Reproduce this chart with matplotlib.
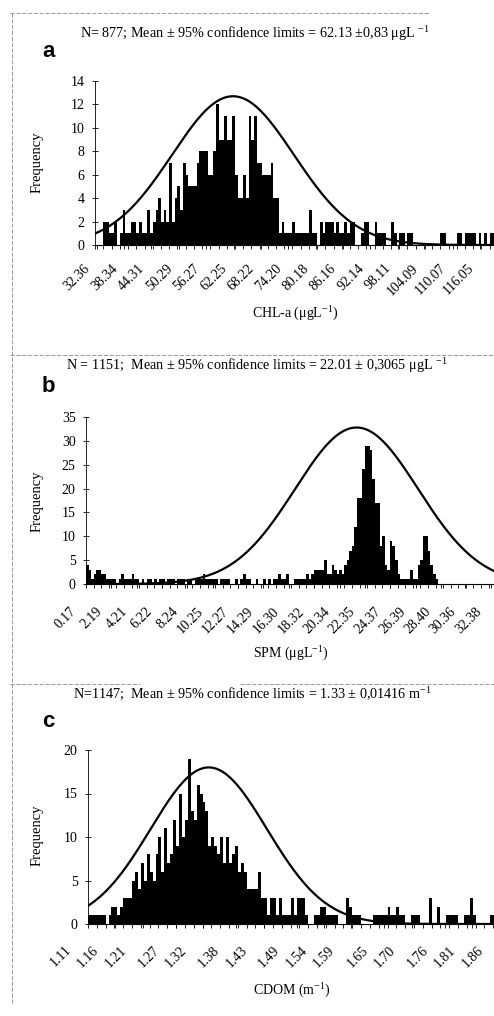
import matplotlib.pyplot as plt
import numpy as np
from matplotlib.lines import Line2D
from matplotlib.transforms import ScaledTranslation

plt.rcParams['font.family'] = ['Liberation Serif', 'DejaVu Serif']
plt.rcParams['mathtext.fontset'] = 'custom'
plt.rcParams['mathtext.rm'] = 'Liberation Serif'

# --- 数据 ---
# a: CHL-a
chl_labels = ['32.36', '38.34', '44.31', '50.29', '56.27', '62.25', '68.22', '74.20',
              '80.18', '86.16', '92.14', '98.11', '104.09', '110.07', '116.05']
chl_bin_start = 32.061
chl_bin_width = 0.598
chl_counts = [0, 0, 0, 2, 2, 1, 1, 2, 0, 1,
              3, 1, 1, 2, 2, 1, 2, 1, 1, 3,
              1, 2, 3, 4, 2, 3, 2, 7, 2, 4,
              5, 3, 7, 6, 5, 5, 5, 7, 8, 8,
              8, 6, 6, 8, 12, 9, 9, 11, 9, 9,
              11, 6, 4, 4, 6, 4, 11, 9, 11, 7,
              7, 6, 6, 6, 7, 4, 4, 1, 2, 1,
              1, 1, 2, 1, 1, 1, 1, 1, 3, 1,
              1, 0, 2, 1, 2, 2, 2, 1, 2, 1,
              1, 2, 1, 2, 2, 0, 0, 1, 2, 2,
              0, 0, 2, 1, 1, 1, 0, 0, 2, 1,
              0, 1, 1, 0, 1, 1, 0, 0, 0, 0,
              0, 0, 0, 0, 0, 0, 1, 1, 0, 0,
              0, 0, 1, 1, 0, 1, 1, 1, 1, 0,
              1, 0, 1, 0, 1, 1]
chl_fit = (62.13, 13.3, 12.7)   # 均值, 标准差, 峰值

# b: SPM
spm_labels = ['0.17', '2.19', '4.21', '6.22', '8.24', '10.25', '12.27', '14.29', '16.30',
              '18.32', '20.34', '22.35', '24.37', '26.39', '28.40', '30.36', '32.38']
spm_bin_start = 0.17
spm_bin_width = 0.2015
spm_counts = [4, 3, 1, 2, 3, 3, 2, 2, 1, 1,
              1, 1, 0, 1, 2, 1, 1, 1, 2, 1,
              1, 0, 1, 0, 1, 1, 0, 1, 0, 1,
              1, 0, 1, 1, 1, 0, 1, 1, 1, 0,
              1, 1, 0, 1, 1, 1, 2, 1, 1, 1,
              1, 1, 0, 1, 1, 1, 1, 0, 0, 1,
              0, 1, 2, 1, 1, 0, 0, 1, 0, 0,
              1, 0, 1, 0, 1, 1, 2, 1, 1, 2,
              0, 0, 1, 1, 1, 1, 1, 2, 1, 2,
              3, 3, 3, 3, 5, 2, 2, 4, 3, 2,
              3, 2, 4, 5, 7, 8, 12, 18, 18, 24,
              29, 29, 28, 22, 17, 17, 8, 10, 4, 3,
              9, 8, 5, 2, 1, 1, 1, 1, 3, 1,
              1, 4, 5, 10, 10, 7, 4, 2, 1, 0]
spm_fit = (21.7, 4.9, 32.8)

# c: CDOM
cdom_labels = ['1.11', '1.16', '1.21', '1.27', '1.32', '1.38', '1.43', '1.49',
               '1.54', '1.59', '1.65', '1.70', '1.76', '1.81', '1.86']
cdom_bin_start = 1.11
cdom_bin_width = 0.00535
cdom_counts = [1, 1, 1, 1, 1, 1, 0, 1, 2, 2,
               1, 2, 3, 3, 3, 5, 6, 4, 7, 5,
               8, 6, 5, 8, 10, 6, 11, 7, 8, 12,
               9, 15, 10, 12, 19, 13, 12, 16, 15, 14,
               13, 9, 10, 9, 8, 10, 7, 10, 7, 8,
               9, 6, 7, 6, 4, 4, 4, 4, 6, 3,
               3, 1, 3, 3, 1, 3, 1, 1, 1, 3,
               1, 3, 3, 3, 1, 0, 0, 1, 1, 2,
               2, 1, 1, 1, 1, 0, 0, 0, 3, 2,
               1, 1, 1, 0, 0, 0, 0, 1, 1, 1,
               1, 1, 2, 1, 1, 2, 1, 1, 0, 0,
               1, 1, 1, 0, 0, 0, 3, 0, 0, 2,
               0, 0, 1, 1, 1, 1, 0, 0, 1, 1,
               3, 1, 0, 0, 0, 0, 0, 1, 1]
cdom_fit = (1.33, 0.106, 18.0)

W, H = 494, 1016
fig = plt.figure(figsize=(W / 100, H / 100), dpi=100)


def fx(px):
    return px / W


def fy(py):
    return 1 - py / H


panels = [
    dict(letter='a', letter_y=57,
         title=r'N= 877; Mean ± 95% confidence limits = 62.13 ±0,83 μgL $^{\mathregular{-1}}$',
         title_xy=(255, 33),
         xlabel=r'CHL-a (μgL$^{\mathregular{-1}}$)', xlabel_xy=(295, 313), ylabel_y=162,
         labels=chl_labels, start=chl_bin_start, bw=chl_bin_width, counts=chl_counts,
         fit=chl_fit, left=95, bottom=245, top=81, xlim=(32.0, 124.8),
         ylim=(0, 14), yticks=np.arange(0, 15, 2), shift=4, pad=9),
    dict(letter='b', letter_y=392,
         title=r'N = 1151;  Mean ± 95% confidence limits = 22.01 ± 0,3065 μgL $^{\mathregular{-1}}$',
         title_xy=(257, 365),
         xlabel=r'SPM (μgL$^{\mathregular{-1}}$)', xlabel_xy=(291, 653), ylabel_y=501,
         labels=spm_labels, start=spm_bin_start, bw=spm_bin_width, counts=spm_counts,
         fit=spm_fit, left=86, bottom=584, top=417, xlim=(0.17, 34.7),
         ylim=(0, 35), yticks=np.arange(0, 36, 5), shift=7, pad=12),
    dict(letter='c', letter_y=727,
         title=r'N=1147;  Mean ± 95% confidence limits = 1.33 ± 0,01416 m$^{\mathregular{-1}}$',
         title_xy=(252, 693),
         xlabel=r'CDOM (m$^{\mathregular{-1}}$)', xlabel_xy=(292, 990), ylabel_y=835,
         labels=cdom_labels, start=cdom_bin_start, bw=cdom_bin_width, counts=cdom_counts,
         fit=cdom_fit, left=88, bottom=924, top=750, xlim=(1.11, 1.897),
         ylim=(0, 20), yticks=np.arange(0, 21, 5), shift=14, pad=11),
]

for p in panels:
    right = 520
    ax = fig.add_axes([fx(p['left']), fy(p['bottom']), fx(right - p['left']),
                       (p['bottom'] - p['top']) / H])
    counts = np.array(p['counts'])
    edges = p['start'] + p['bw'] * np.arange(len(counts))
    ax.bar(edges, counts, width=p['bw'], align='edge', color='black', linewidth=0)

    # 正态拟合曲线
    mu, sd, peak = p['fit']
    xs = np.linspace(p['xlim'][0], p['xlim'][1], 500)
    ax.plot(xs, peak * np.exp(-0.5 * ((xs - mu) / sd) ** 2), color='black', lw=1.6)

    ax.set_xlim(*p['xlim'])
    ax.set_ylim(*p['ylim'])
    ax.set_yticks(p['yticks'])
    ax.set_yticklabels([str(int(v)) for v in p['yticks']], fontsize=10)
    ax.tick_params(axis='y', direction='inout', length=5, width=0.6, pad=5)

    ticks = [float(s) for s in p['labels']]
    ax.set_xticks(ticks)
    ax.set_xticklabels(p['labels'], fontsize=10, rotation=45, ha='right')
    ax.set_xticks(np.arange(p['start'], p['xlim'][1], p['bw'] * 3), minor=True)
    ax.tick_params(axis='x', which='both', direction='out', length=3, width=0.6, pad=p['pad'])
    off = ScaledTranslation(-p['shift'] / 100, 0, fig.dpi_scale_trans)
    for lab in ax.get_xticklabels():
        lab.set_transform(lab.get_transform() + off)

    for s in ['top', 'right']:
        ax.spines[s].set_visible(False)
    ax.spines['left'].set_linewidth(0.6)
    ax.spines['bottom'].set_linewidth(0.8)

    fig.text(fx(p['title_xy'][0]), fy(p['title_xy'][1]), p['title'], fontsize=10.2,
             ha='center', va='center')
    fig.text(fx(42), fy(p['letter_y']), p['letter'], fontsize=16, fontweight='bold',
             family='Liberation Sans', ha='left', va='baseline')
    fig.text(fx(37), fy(p['ylabel_y']), 'Frequency', fontsize=10.5, rotation=90,
             ha='center', va='center')
    fig.text(fx(p['xlabel_xy'][0]), fy(p['xlabel_xy'][1]), p['xlabel'], fontsize=10,
             ha='center', va='center')

# 扫描页面的虚线边框
frame = dict(color='#888888', lw=0.6, ls=(0, (5, 2)))
for (x0, y0, x1, y1) in [(10, 13, 430, 13), (12, 13, 12, 1003),
                         (10, 355, 494, 355), (10, 684, 140, 684), (240, 684, 494, 684)]:
    fig.add_artist(Line2D([fx(x0), fx(x1)], [fy(y0), fy(y1)], transform=fig.transFigure, **frame))

fig.savefig('out.png', dpi=100)
